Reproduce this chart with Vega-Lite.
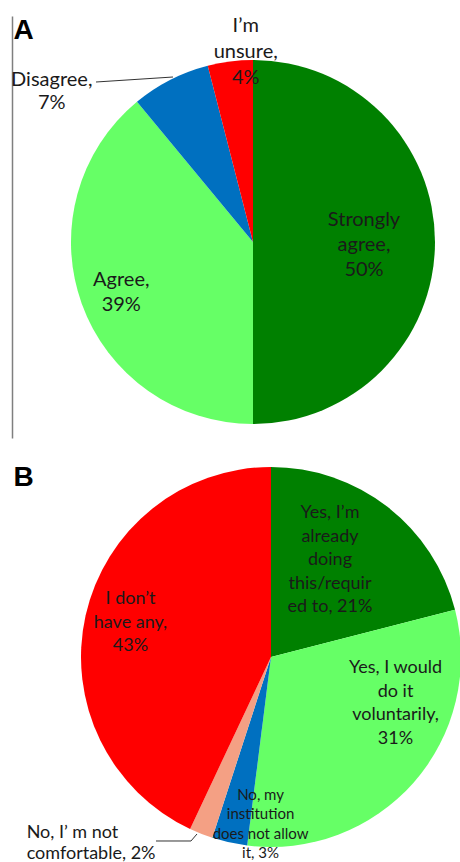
{
  "$schema": "https://vega.github.io/schema/vega-lite/v6.json",
  "padding": {"left": 11, "top": 15, "right": 0, "bottom": 0},
  "background": "white",
  "config": {"view": {"stroke": null}},
  "spacing": 26,
  "resolve": {"scale": {"x": "independent", "y": "independent", "color": "independent", "theta": "independent"}},
  "vconcat": [
    {
      "width": 449,
      "height": 422,
      "title": {"text": "A", "anchor": "start", "frame": "group", "orient": "top", "offset": 0, "baseline": "alphabetic", "dx": 1.5, "dy": 51, "fontSize": 28, "font": "Liberation Sans", "fontWeight": "bold", "color": "#000000"},
      "data": {"values": [
        {"cat": "Strongly agree", "value": 50, "idx": 1, "label": "Strongly\nagree,\n50%"},
        {"cat": "Agree", "value": 39, "idx": 2, "label": "Agree,\n39%"},
        {"cat": "Disagree", "value": 7, "idx": 3, "label": "Disagree,\n7%"},
        {"cat": "I’m unsure", "value": 4, "idx": 4, "label": "I’m\nunsure,\n4%"}
      ]},
      "encoding": {
        "x": {"datum": 0, "type": "quantitative", "scale": {"domain": [-1.3242, 1.1429], "nice": false, "zero": false}, "axis": null},
        "y": {"datum": 0, "type": "quantitative", "scale": {"domain": [-1.0769, 1.2418], "nice": false, "zero": false}, "axis": {"title": null, "labels": false, "ticks": false, "grid": false, "domainColor": "#7f7f7f", "domainWidth": 1.5}}
      },
      "layer": [
        {
          "mark": {"type": "arc", "radius": 182, "stroke": null},
          "encoding": {
            "theta": {"field": "value", "type": "quantitative", "stack": true},
            "order": {"field": "idx", "type": "quantitative"},
            "color": {"field": "cat", "type": "nominal", "legend": null, "scale": {"domain": ["Strongly agree", "Agree", "Disagree", "I’m unsure"], "range": ["#008000", "#66FF66", "#0070C0", "#FF0000"]}}
          }
        },
        {
          "mark": {"type": "text", "radius": 111, "dy": -22, "font": "Lato", "fontSize": 20, "lineHeight": 25, "lineBreak": "\n", "color": "#1a1a1a"},
          "encoding": {
            "theta": {"field": "value", "type": "quantitative", "stack": true},
            "order": {"field": "idx", "type": "quantitative"},
            "text": {"condition": {"test": "datum.idx === 1", "field": "label", "type": "nominal"}, "value": ""}
          }
        },
        {
          "mark": {"type": "text", "radius": 140, "dy": -9.5, "font": "Lato", "fontSize": 20, "lineHeight": 25, "lineBreak": "\n", "color": "#1a1a1a"},
          "encoding": {
            "theta": {"field": "value", "type": "quantitative", "stack": true},
            "order": {"field": "idx", "type": "quantitative"},
            "text": {"condition": {"test": "datum.idx === 2", "field": "label", "type": "nominal"}, "value": ""}
          }
        },
        {
          "mark": {"type": "text", "radius": 60, "dx": -174, "dy": -108.5, "font": "Lato", "fontSize": 20, "lineHeight": 23, "lineBreak": "\n", "color": "#1a1a1a"},
          "encoding": {
            "theta": {"field": "value", "type": "quantitative", "stack": true},
            "order": {"field": "idx", "type": "quantitative"},
            "text": {"condition": {"test": "datum.idx === 3", "field": "label", "type": "nominal"}, "value": ""}
          }
        },
        {
          "mark": {"type": "text", "radius": 170, "dx": 14, "dy": -47.5, "font": "Lato", "fontSize": 20, "lineHeight": 26, "lineBreak": "\n", "color": "#1a1a1a"},
          "encoding": {
            "theta": {"field": "value", "type": "quantitative", "stack": true},
            "order": {"field": "idx", "type": "quantitative"},
            "text": {"condition": {"test": "datum.idx === 4", "field": "label", "type": "nominal"}, "value": ""}
          }
        },
        {
          "data": {"values": [{"note": "Disagree leader line"}]},
          "mark": {"type": "rule", "color": "#333333", "strokeWidth": 1},
          "encoding": {
            "x": {"datum": -0.8626, "type": "quantitative"},
            "x2": {"datum": -0.4396},
            "y": {"datum": 0.8791, "type": "quantitative", "axis": {"title": null, "labels": false, "ticks": false, "grid": false, "domainColor": "#7f7f7f", "domainWidth": 1.5}},
            "y2": {"datum": 0.9066}
          }
        }
      ]
    },
    {
      "width": 449,
      "height": 399,
      "title": {"text": "B", "anchor": "start", "frame": "group", "orient": "top", "offset": 0, "baseline": "alphabetic", "dx": 1.5, "dy": 50, "fontSize": 28, "font": "Liberation Sans", "fontWeight": "bold", "color": "#000000"},
      "data": {"values": [
        {"cat": "Yes, already doing this", "value": 21, "idx": 1, "label": "Yes, I’m\nalready\ndoing\nthis/requir\ned to, 21%"},
        {"cat": "Yes, would do it voluntarily", "value": 31, "idx": 2, "label": "Yes, I would\ndo it\nvoluntarily,\n31%"},
        {"cat": "No, institution does not allow it", "value": 3, "idx": 3, "label": "No, my\ninstitution\ndoes not allow\nit, 3%"},
        {"cat": "No, not comfortable", "value": 2, "idx": 4, "label": "No, I’ m not\ncomfortable, 2%"},
        {"cat": "I don’t have any", "value": 43, "idx": 5, "label": "I don’t\nhave any,\n43%"}
      ]},
      "encoding": {
        "x": {"datum": 0, "type": "quantitative", "scale": {"domain": [-1.3632, 1.0], "nice": false, "zero": false}, "axis": null},
        "y": {"datum": 0, "type": "quantitative", "scale": {"domain": [-1.0842, 1.0158], "nice": false, "zero": false}, "axis": null}
      },
      "layer": [
        {
          "mark": {"type": "arc", "radius": 190, "stroke": null},
          "encoding": {
            "theta": {"field": "value", "type": "quantitative", "stack": true},
            "order": {"field": "idx", "type": "quantitative"},
            "color": {"field": "cat", "type": "nominal", "legend": null, "scale": {"domain": ["Yes, already doing this", "Yes, would do it voluntarily", "No, institution does not allow it", "No, not comfortable", "I don’t have any"], "range": ["#008000", "#66FF66", "#0070C0", "#F4A084", "#FF0000"]}}
          }
        },
        {
          "mark": {"type": "text", "radius": 124, "dx": -17, "dy": -46, "font": "Lato", "fontSize": 18, "lineHeight": 23.5, "lineBreak": "\n", "color": "#1a1a1a"},
          "encoding": {
            "theta": {"field": "value", "type": "quantitative", "stack": true},
            "order": {"field": "idx", "type": "quantitative"},
            "text": {"condition": {"test": "datum.idx === 1", "field": "label", "type": "nominal"}, "value": ""}
          }
        },
        {
          "mark": {"type": "text", "radius": 130, "dx": 27, "dy": -74.5, "font": "Lato", "fontSize": 18, "lineHeight": 23.5, "lineBreak": "\n", "color": "#1a1a1a"},
          "encoding": {
            "theta": {"field": "value", "type": "quantitative", "stack": true},
            "order": {"field": "idx", "type": "quantitative"},
            "text": {"condition": {"test": "datum.idx === 2", "field": "label", "type": "nominal"}, "value": ""}
          }
        },
        {
          "mark": {"type": "text", "radius": 167, "dx": 26, "dy": -25, "font": "Lato", "fontSize": 15, "lineHeight": 19.3, "lineBreak": "\n", "color": "#1a1a1a"},
          "encoding": {
            "theta": {"field": "value", "type": "quantitative", "stack": true},
            "order": {"field": "idx", "type": "quantitative"},
            "text": {"condition": {"test": "datum.idx === 3", "field": "label", "type": "nominal"}, "value": ""}
          }
        },
        {
          "mark": {"type": "text", "radius": 20, "dx": -237, "dy": 157, "align": "left", "font": "Lato", "fontSize": 18, "lineHeight": 21, "lineBreak": "\n", "color": "#1a1a1a"},
          "encoding": {
            "theta": {"field": "value", "type": "quantitative", "stack": true},
            "order": {"field": "idx", "type": "quantitative"},
            "text": {"condition": {"test": "datum.idx === 4", "field": "label", "type": "nominal"}, "value": ""}
          }
        },
        {
          "mark": {"type": "text", "radius": 145, "dx": 1, "dy": -26, "font": "Lato", "fontSize": 18, "lineHeight": 23.5, "lineBreak": "\n", "color": "#1a1a1a"},
          "encoding": {
            "theta": {"field": "value", "type": "quantitative", "stack": true},
            "order": {"field": "idx", "type": "quantitative"},
            "text": {"condition": {"test": "datum.idx === 5", "field": "label", "type": "nominal"}, "value": ""}
          }
        },
        {
          "data": {"values": [{"note": "leader segment"}]},
          "mark": {"type": "rule", "color": "#333333", "strokeWidth": 1},
          "encoding": {
            "x": {"datum": -0.6053, "type": "quantitative"},
            "x2": {"datum": -0.4211},
            "y": {"datum": -0.9684, "type": "quantitative"},
            "y2": {"datum": -0.9684}
          }
        },
        {
          "data": {"values": [{"note": "leader segment"}]},
          "mark": {"type": "rule", "color": "#333333", "strokeWidth": 1},
          "encoding": {
            "x": {"datum": -0.4211, "type": "quantitative"},
            "x2": {"datum": -0.3895},
            "y": {"datum": -0.9684, "type": "quantitative"},
            "y2": {"datum": -0.9316}
          }
        }
      ]
    }
  ]
}
